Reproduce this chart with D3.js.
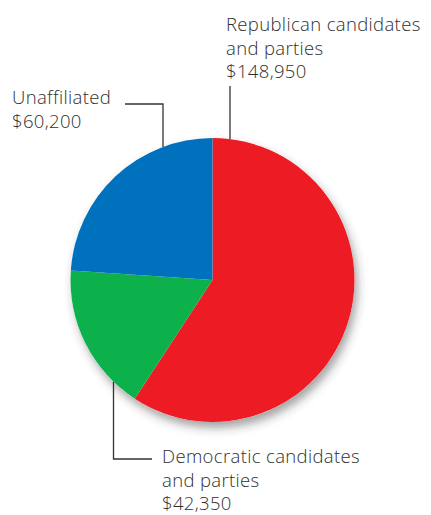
<!DOCTYPE html>
<html lang="en">
<head>
<meta charset="UTF-8">
<title>Contributions pie</title>
<script src="https://d3js.org/d3.v7.min.js"></script>
<style>
  body { margin: 0; background: #fff; }
  svg { display: block; }
  .lbl { font-family: "Open Sans", "Noto Sans", sans-serif; font-size: 18.5px; font-weight: 350; letter-spacing: 0.35px; fill: #2f2f2f; }
  .leader { stroke: #333; stroke-width: 1.3; fill: none; }
</style>
</head>
<body>
<svg id="chart" width="431" height="515"></svg>
<script>
// datos
const categories = ["Republican", "Democratic", "Unaffiliated"];
const values = [148950, 42350, 60200];
const labelLines = [
  ["Republican candidates", "and parties", "$148,950"],
  ["Democratic candidates", "and parties", "$42,350"],
  ["Unaffiliated", "$60,200"]
];
const colors = ["#ed1c24", "#0db14b", "#0071bc"];

const svg = d3.select("#chart");
const cx = 212.5, cy = 280, r = 142;

// sombra suave
const defs = svg.append("defs");
defs.append("filter").attr("id", "sombra")
  .attr("x", "-20%").attr("y", "-20%").attr("width", "150%").attr("height", "150%")
  .append("feDropShadow")
  .attr("dx", 3).attr("dy", 6).attr("stdDeviation", 5)
  .attr("flood-color", "#333").attr("flood-opacity", 0.45);

const pie = d3.pie().sort(null).value(d => d);
const arc = d3.arc().innerRadius(0).outerRadius(r);
const arcs = pie(values);

const g = svg.append("g").attr("transform", `translate(${cx},${cy})`);
g.append("circle").attr("r", r).attr("fill", "#fff").attr("filter", "url(#sombra)");
g.selectAll("path.slice")
  .data(arcs)
  .join("path")
  .attr("class", "slice")
  .attr("d", arc)
  .attr("fill", (d, i) => colors[i]);

// punto del borde del circulo para una x dada (arriba o abajo)
function edgeY(x, arriba) {
  const dx = x - cx;
  const dy = Math.sqrt(r * r - dx * dx);
  return arriba ? cy - dy : cy + dy;
}

// lineas guia
const repX = 230;
svg.append("path").attr("class", "leader")
  .attr("d", `M${repX},86 V${edgeY(repX, true)}`);

const unaX = 163;
svg.append("path").attr("class", "leader")
  .attr("d", `M125,104 H${unaX} V${edgeY(unaX, true)}`);

const demX = 113.5;
svg.append("path").attr("class", "leader")
  .attr("d", `M${demX},${edgeY(demX, false)} V459 H152`);

// etiquetas, una linea por texto
const labelPos = [
  { x: 226, y: 31 },
  { x: 162, y: 463 },
  { x: 12, y: 104 }
];
const lineH = 23.5;
labelLines.forEach((lines, i) => {
  svg.selectAll(null)
    .data(lines)
    .join("text")
    .attr("class", "lbl")
    .attr("x", labelPos[i].x)
    .attr("y", (s, j) => labelPos[i].y + j * lineH)
    .text(s => s);
});
</script>
</body>
</html>
